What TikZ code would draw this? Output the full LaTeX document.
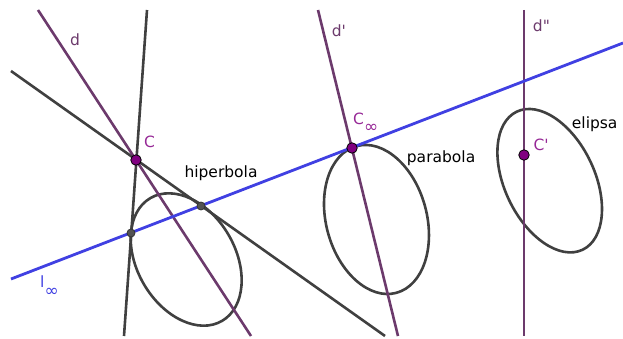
\documentclass[tikz,border=0pt]{standalone}
\usepackage{fontspec}
\setmainfont{DejaVu Sans}
\definecolor{dgray}{RGB}{64,64,64}
\definecolor{lpurple}{RGB}{108,58,108}
\definecolor{tpurple}{RGB}{150,40,150}
\definecolor{ppurple}{RGB}{128,0,128}
\definecolor{lblue}{RGB}{64,64,226}
\begin{document}
\begin{tikzpicture}[x=1pt,y=1pt,
  conic/.style={draw=dgray, line width=2.6pt},
  tline/.style={draw=dgray, line width=2.6pt},
  pline/.style={draw=lpurple, line width=2.6pt},
  bline/.style={draw=lblue, line width=2.8pt},
  bigpt/.style={circle, fill=ppurple, draw=black, line width=0.8pt, minimum size=10.5pt, inner sep=0pt},
  smallpt/.style={circle, fill=dgray!90!white, draw=black!80, line width=0.8pt, minimum size=8pt, inner sep=0pt},
  lbl/.style={inner sep=0pt, anchor=base west, font=\fontsize{15.5}{18}\selectfont},
]
\useasboundingbox (0,0) rectangle (623,338);
% coordinates
\coordinate (lA) at (11,59);   \coordinate (lB) at (623,295);
\coordinate (dA) at (38,328);  \coordinate (dB) at (251,2);
\coordinate (t1A) at (147,328); \coordinate (t1B) at (124,2);
\coordinate (t2A) at (11,267); \coordinate (t2B) at (385,2);
\coordinate (d1A) at (318,328); \coordinate (d1B) at (398,2);
\coordinate (d2A) at (524,328); \coordinate (d2B) at (524,2);
\coordinate (E1) at (186.2,78.5);
\coordinate (E2) at (376.5,118.5);
\coordinate (E3) at (549.7,157.3);
% conics
\draw[conic, rotate around={-59.7:(E1)}] (E1) ellipse [x radius=71.1, y radius=49];
\draw[conic, rotate around={-74.8:(E2)}] (E2) ellipse [x radius=76, y radius=50.3];
\draw[conic, rotate around={-64.5:(E3)}] (E3) ellipse [x radius=76.5, y radius=45];
% lines
\draw[tline] (t1A) -- (t1B);
\draw[tline] (t2A) -- (t2B);
\draw[pline] (dA) -- (dB);
\draw[pline] (d1A) -- (d1B);
\draw[pline] (d2A) -- (d2B);
\draw[bline] (lA) -- (lB);
% points
\node[smallpt] (T1) at (131,105) {};
\node[smallpt] (T2) at (201,132) {};
\node[bigpt] (C) at (136,178) {};
\node[bigpt] (Cinf) at (352,190) {};
\node[bigpt] (Cp) at (524,183) {};
% labels
\node[lbl, text=lpurple] (ld) at (70,292) {d};
\node[lbl, text=lpurple] (ld1) at (331.7,301.3) {d\textquotesingle};
\node[lbl, text=lpurple] (ld2) at (532.7,306.3) {d\textquotedbl};
\node[lbl, text=tpurple] (lC) at (144,190.3) {C};
\node[lbl, text=tpurple] (lCinf) at (353,214) {C\raisebox{-8pt}{\fontsize{17}{17}\selectfont ∞}};
\node[lbl, text=tpurple] (lCp) at (533.3,188) {C\textquotesingle};
\node[lbl, text=lblue] (linf) at (40,51) {l\raisebox{-9.5pt}{\fontsize{17}{17}\selectfont ∞}};
\node[lbl] (lhip) at (184.3,160.3) {hiperbola};
\node[lbl] (lpar) at (406.7,175.3) {parabola};
\node[lbl] (lel) at (571.7,209.7) {elipsa};
\end{tikzpicture}
\end{document}
